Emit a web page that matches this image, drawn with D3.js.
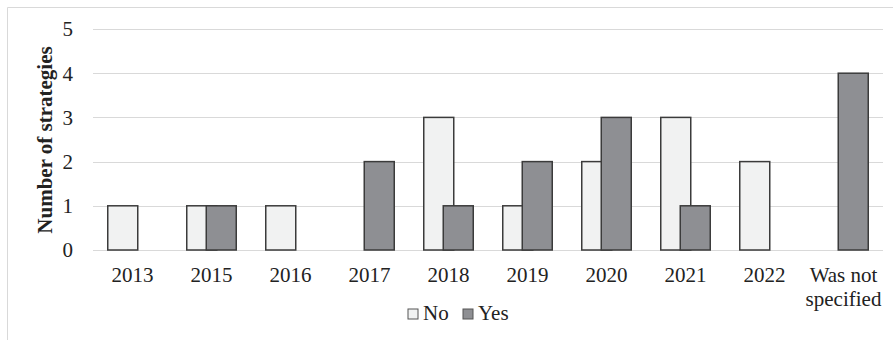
<!DOCTYPE html>
<html>
<head>
<meta charset="utf-8">
<script src="https://cdn.jsdelivr.net/npm/d3@7"></script>
<style>
	body { margin: 0; background: #fff; }
</style>
</head>
<body>
<script>
var w = 893;
var h = 340;

var categories = ["2013", "2015", "2016", "2017", "2018", "2019", "2020", "2021", "2022", "Was not specified"];
var seriesNames = ["No", "Yes"];
var noValues = [1, 1, 1, 0, 3, 1, 2, 3, 2, 0];
var yesValues = [0, 1, 0, 2, 1, 2, 3, 1, 0, 4];
var yTicks = [0, 1, 2, 3, 4, 5];

var colors = { No: "#f1f2f2", Yes: "#8e8f93" };

var svg = d3.select("body")
	.append("svg")
	.attr("width", w)
	.attr("height", h)
	.style("font-family", "'Liberation Serif'");

// chart frame (cropped on the right and bottom)
svg.append("path")
	.attr("d", "M7.5," + h + "V7.5H" + w)
	.attr("fill", "none")
	.attr("stroke", "#d9d9d9")
	.attr("stroke-width", 1);

var xScale = d3.scaleBand()
	.domain(categories)
	.range([93, 883]);

var yScale = d3.scaleLinear()
	.domain([0, 5])
	.range([250, 29]);

// series offset from the category centre (bars overlap a little)
var offset = d3.scalePoint()
	.domain(seriesNames)
	.range([-9.75, 9.75]);
var barW = 30;

// gridlines
svg.append("g")
	.selectAll("line")
	.data(yTicks)
	.enter()
	.append("line")
	.attr("x1", 93)
	.attr("x2", 883)
	.attr("y1", (d) => Math.round(yScale(d)) + 0.5)
	.attr("y2", (d) => Math.round(yScale(d)) + 0.5)
	.attr("stroke", "#d9d9d9")
	.attr("stroke-width", 1.2);

// y axis labels
svg.append("g")
	.selectAll("text")
	.data(yTicks)
	.enter()
	.append("text")
	.attr("x", 73)
	.attr("y", (d) => yScale(d))
	.attr("dy", "0.35em")
	.attr("text-anchor", "end")
	.style("font-family", "'Liberation Serif'")
	.attr("font-size", 21)
	.attr("fill", "#222")
	.text((d) => d);

// x axis labels
var xl = svg.append("g")
	.selectAll("text")
	.data(categories)
	.enter()
	.append("text")
	.attr("x", (d) => xScale(d) + xScale.bandwidth() / 2)
	.attr("y", 282)
	.attr("text-anchor", "middle")
	.style("font-family", "'Liberation Serif'")
	.attr("font-size", 21)
	.attr("fill", "#222")
	.text((d) => d === "Was not specified" ? "Was not" : d);
svg.append("text")
	.attr("x", xScale("Was not specified") + xScale.bandwidth() / 2)
	.attr("y", 306)
	.attr("text-anchor", "middle")
	.style("font-family", "'Liberation Serif'")
	.attr("font-size", 21)
	.attr("fill", "#222")
	.text("specified");

// bars
var data = [];
categories.forEach(function (c, i) {
	data.push({ cat: c, series: "No", value: noValues[i] });
	data.push({ cat: c, series: "Yes", value: yesValues[i] });
});

svg.append("g")
	.selectAll("rect")
	.data(data.filter((d) => d.value > 0))
	.enter()
	.append("rect")
	.attr("x", (d) => xScale(d.cat) + xScale.bandwidth() / 2 + offset(d.series) - barW / 2)
	.attr("y", (d) => yScale(d.value))
	.attr("width", barW)
	.attr("height", (d) => yScale(0) - yScale(d.value))
	.attr("fill", (d) => colors[d.series])
	.attr("stroke", "#3b3b3b")
	.attr("stroke-width", 1.5);

// y title
svg.append("text")
	.attr("transform", "translate(52,140) rotate(-90)")
	.attr("text-anchor", "middle")
	.style("font-family", "'Liberation Serif'")
	.style("font-weight", "bold")
	.attr("font-size", 21)
	.attr("fill", "#222")
	.text("Number of strategies");

// legend
var legend = svg.append("g")
	.selectAll("g")
	.data(seriesNames)
	.enter()
	.append("g")
	.attr("transform", (d, i) => "translate(" + (408 + i * 55) + ",309)");
legend.append("rect")
	.attr("width", 10)
	.attr("height", 10)
	.attr("fill", (d) => colors[d])
	.attr("stroke", "#555")
	.attr("stroke-width", 1);
legend.append("text")
	.attr("x", 15)
	.attr("y", 11)
	.style("font-family", "'Liberation Serif'")
	.attr("font-size", 21)
	.attr("fill", "#222")
	.text((d) => d);
</script>
</body>
</html>
